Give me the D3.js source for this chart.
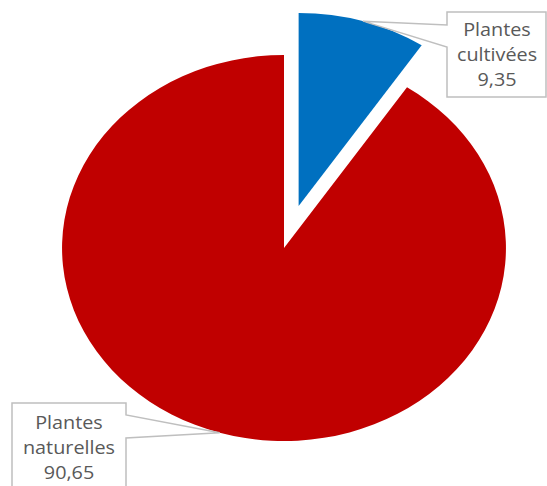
<!DOCTYPE html>
<html>
<head>
<meta charset="utf-8">
<script src="https://cdn.jsdelivr.net/npm/d3@7"></script>
<style>
  html, body { margin: 0; padding: 0; background: #fff; }
  svg { display: block; }
</style>
</head>
<body>
<div class="chart"></div>
<script>
  var categories = ['Plantes cultivées', 'Plantes naturelles']
  var labelLines = [['Plantes', 'cultivées'], ['Plantes', 'naturelles']]
  var values = [9.35, 90.65]
  var valueLabels = ['9,35', '90,65']
  var colors = ['#0070C0', '#C00000']

  var W = 547
  var H = 486
  var cx = 284
  var cy = 248
  var R = 193
  var SX = 1.15 // the pie is stretched horizontally
  var EXPLODE = [44, 0]

  var svg = d3.select('.chart').append('svg')
    .attr('width', W)
    .attr('height', H)

  var pie = d3.pie().sort(null).value(function (d) { return d })
  var arcs = pie(values)
  var arc = d3.arc().innerRadius(0).outerRadius(R)

  function midAngle (d) { return (d.startAngle + d.endAngle) / 2 }

  // screen position of a point given in circle coordinates for slice i
  function toScreen (i, a, r) {
    var off = EXPLODE[i]
    var m = midAngle(arcs[i])
    var x = off * Math.sin(m) + r * Math.sin(a)
    var y = -off * Math.cos(m) - r * Math.cos(a)
    return [cx + SX * x, cy + y]
  }

  var g = svg.append('g')
    .attr('transform', 'translate(' + cx + ',' + cy + ') scale(' + SX + ',1)')

  g.selectAll('path.slice')
    .data(arcs)
    .enter().append('path')
    .attr('class', 'slice')
    .attr('fill', function (d, i) { return colors[i] })
    .attr('transform', function (d, i) {
      var m = midAngle(d)
      return 'translate(' + (EXPLODE[i] * Math.sin(m)) + ',' + (-EXPLODE[i] * Math.cos(m)) + ')'
    })
    .attr('d', arc)

  // label boxes with callout pointers
  var boxes = [
    { x0: 447, y0: 12, x1: 546, y1: 97, side: 'left', p0: 25, p1: 47, tx: 497, ty: 30 },
    { x0: 12, y0: 403, x1: 126, y1: 500, side: 'right', p0: 415, p1: 438, tx: 69, ty: 423 }
  ]

  boxes.forEach(function (b, i) {
    var tip = toScreen(i, midAngle(arcs[i]), R)
    var p
    if (b.side === 'left') {
      p = 'M' + b.x0 + ',' + b.y0 + 'H' + b.x1 + 'V' + b.y1 + 'H' + b.x0 + 'V' + b.p1 +
        'L' + tip[0] + ',' + tip[1] + 'L' + b.x0 + ',' + b.p0 + 'Z'
    } else {
      p = 'M' + b.x0 + ',' + b.y0 + 'H' + b.x1 + 'V' + b.p0 +
        'L' + tip[0] + ',' + tip[1] + 'L' + b.x1 + ',' + b.p1 + 'V' + b.y1 + 'H' + b.x0 + 'Z'
    }
    svg.append('path')
      .attr('d', p)
      .attr('fill', '#fff')
      .attr('stroke', '#BFBFBF')
      .attr('stroke-width', 1.5)

    // text is stretched like the rest of the picture
    var lines = labelLines[i].concat([valueLabels[i]])
    svg.append('text')
      .attr('transform', 'translate(' + b.tx + ',' + b.ty + ') scale(1.1,1)')
      .attr('text-anchor', 'middle')
      .attr('fill', '#595959')
      .style('font-family', 'Open Sans, sans-serif')
      .style('font-size', '18px')
      .selectAll('tspan')
      .data(lines)
      .enter().append('tspan')
      .attr('x', 0)
      .attr('dy', function (d, k) { return k === 0 ? '0.35em' : 25 })
      .text(function (d) { return d })
  })
</script>
</body>
</html>
